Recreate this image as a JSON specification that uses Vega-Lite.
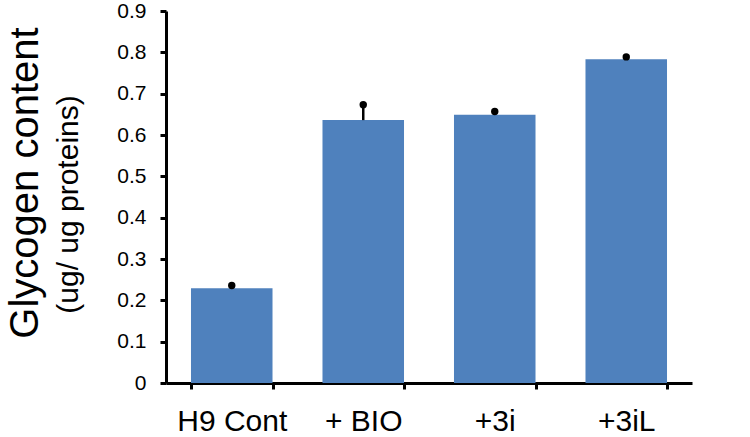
{
  "$schema": "https://vega.github.io/schema/vega-lite/v6.json",
  "width": 526,
  "height": 372,
  "autosize": {"type": "none"},
  "padding": {"left": 166, "top": 11, "right": 58, "bottom": 54},
  "background": "white",
  "title": {
    "text": "Glycogen content",
    "orient": "left",
    "anchor": "middle",
    "font": "Liberation Sans",
    "fontSize": 40,
    "fontWeight": "normal",
    "color": "black",
    "offset": 7,
    "dx": 14
  },
  "data": {
    "values": [
      {"group": "H9 Cont", "value": 0.229, "upper": 0.236},
      {"group": "+ BIO", "value": 0.636, "upper": 0.673},
      {"group": "+3i", "value": 0.649, "upper": 0.657},
      {"group": "+3iL", "value": 0.783, "upper": 0.789}
    ]
  },
  "encoding": {
    "x": {
      "field": "group",
      "type": "nominal",
      "sort": null,
      "scale": {"paddingInner": 0.38, "paddingOuter": 0.19},
      "axis": {
        "title": null,
        "labelAngle": 0,
        "labelFont": "Liberation Sans",
        "labelFontSize": 30,
        "labelColor": "black",
        "labelPadding": 17,
        "tickBand": "extent",
        "tickSize": 6,
        "tickWidth": 3,
        "tickColor": "black",
        "domainColor": "black",
        "domainWidth": 3
      }
    }
  },
  "layer": [
    {
      "mark": {"type": "bar", "color": "#4F81BD"},
      "encoding": {
        "y": {
          "field": "value",
          "type": "quantitative",
          "scale": {"domain": [0, 0.9], "nice": false},
          "axis": {
            "title": "(ug/ ug proteins)",
            "titleFont": "Liberation Sans",
            "titleFontSize": 30,
            "titleFontWeight": "normal",
            "titleColor": "black",
            "titleX": -83,
            "titleY": 193,
            "titleBaseline": "bottom",
            "values": [0, 0.1, 0.2, 0.3, 0.4, 0.5, 0.6, 0.7, 0.8, 0.9],
            "labelExpr": "datum.value == 0 ? '0' : format(datum.value, '.1f')",
            "labelFont": "Liberation Sans",
            "labelFontSize": 21,
            "labelColor": "black",
            "labelPadding": 14,
            "tickSize": 6,
            "tickWidth": 3,
            "tickColor": "black",
            "domainColor": "black",
            "domainWidth": 3,
            "grid": false
          }
        }
      }
    },
    {
      "mark": {"type": "rule", "color": "black", "strokeWidth": 2.5},
      "encoding": {
        "y": {"field": "value", "type": "quantitative"},
        "y2": {"field": "upper"}
      }
    },
    {
      "mark": {"type": "point", "filled": true, "color": "black", "size": 55, "opacity": 1},
      "encoding": {
        "y": {"field": "upper", "type": "quantitative"}
      }
    }
  ],
  "config": {
    "view": {"stroke": null},
    "axis": {"grid": false}
  }
}
